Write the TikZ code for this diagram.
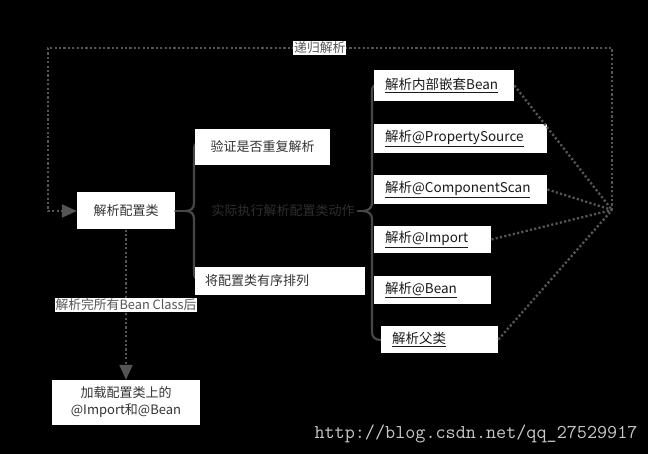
\documentclass[tikz,border=0pt]{standalone}
\usepackage{fontspec}
\setmainfont{Noto Sans CJK SC}
\usepackage{xcolor}
\usetikzlibrary{arrows.meta}
\newcommand{\picwidth}{648}
\newcommand{\picheight}{454}
\definecolor{pagebg}{HTML}{000000}
\definecolor{boxtext}{HTML}{333333}
\definecolor{linktext}{HTML}{1A1A1A}
\definecolor{bracecolor}{HTML}{474747}
\definecolor{dotcolor}{HTML}{555555}
\definecolor{dimtext}{HTML}{2E2E2E}
\definecolor{marktext}{HTML}{C8C8C8}

\tikzset{
  whitebox/.style={fill=white, inner ysep=0pt, font=\fontsize{13}{16}\selectfont\color{boxtext}},
  stepbox/.style={fill=white, anchor=west, align=left, inner xsep=11pt, inner ysep=0pt,
    font=\fontsize{13.5}{16}\selectfont\color{linktext}},
  dotline/.style={dotcolor, line width=2.3pt, dash pattern=on 2.2pt off 2.2pt},
  bracket/.style={bracecolor, line width=2.2pt, line cap=round},
  ontag/.style={fill=white, inner sep=1pt, font=\fontsize{12.8}{15}\selectfont\color{black}},
  tip/.style={-{Triangle[length=15pt, width=13pt]}},
}

\begin{document}
\begin{tikzpicture}[x=1pt, y=1pt]
  \fill[pagebg] (0,0) rectangle (\picwidth, \picheight);
  \useasboundingbox (0,0) rectangle (\picwidth, \picheight);

  % === BRACES ===
  \coordinate (tipA) at (186,243);
  \coordinate (tipB) at (363,243);
  \draw[bracket] (199,311) .. controls (195,311) and (194,309) .. (194,304) -- (194,251)
    .. controls (194,246) and (191,243) .. (tipA)
    .. controls (191,243) and (194,240) .. (194,235) -- (194,182)
    .. controls (194,177) and (195,175) .. (199,175);
  \draw[bracket] (378,369) .. controls (373,369) and (372,367) .. (372,362) -- (372,251)
    .. controls (372,246) and (368,243) .. (tipB)
    .. controls (368,243) and (372,240) .. (372,235) -- (372,122)
    .. controls (372,117) and (375,114) .. (381,114);

  % === LEFT PART ===
  \node[whitebox, minimum width=98pt, minimum height=37pt] (cfg) at (126,243) {解析配置类};
  \node[whitebox, minimum width=135pt, minimum height=36pt] (check) at (262.5,307) {验证是否重复解析};
  \node[whitebox, anchor=west, align=left, text width=150pt, inner xsep=10pt, minimum height=28pt]
    (order) at (195,173) {将配置类有序排列};
  \node[font=\fontsize{13}{16}\selectfont\color{dimtext}] (act) at (283,243) {实际执行解析配置类动作};
  \node[whitebox, align=center, minimum width=148pt, minimum height=45pt,
    font=\fontsize{13}{17}\selectfont\color{boxtext}] (load) at (126,51.5) {加载配置类上的\\@Import和@Bean};

  % === RIGHT COLUMN ===
  \node[stepbox, text width=118pt, minimum height=31pt] (nested) at (374,368.5) {\underline{解析内部嵌套Bean}};
  \node[stepbox, text width=151pt, minimum height=29pt] (prop) at (374,315.5) {\underline{解析@PropertySource}};
  \node[stepbox, text width=151pt, minimum height=29pt] (scan) at (374,264.5) {\underline{解析@ComponentScan}};
  \node[stepbox, text width=95pt, minimum height=27pt] (imp) at (374,214.5) {\underline{解析@Import}};
  \node[stepbox, text width=95pt, minimum height=28pt] (bean) at (374,164) {\underline{解析@Bean}};
  \node[stepbox, text width=95pt, minimum height=27pt] (parent) at (381,114.5) {\underline{解析父类}};

  \draw[bracket] (cfg.east) -- (tipA);
  \draw[bracket] (act.east) -- (tipB);

  % === RECURSION LOOP ===
  \coordinate (merge) at (612,244);
  \coordinate (loopR) at (612,406);
  \coordinate (loopL) at (48,406);
  \draw[dotline] (nested.east) -- (merge);
  \draw[dotline] (scan.east) -- (merge);
  \draw[dotline] (imp.east) -- (merge);
  \draw[dotline] (parent.east) -- (merge);
  \draw[dotline, tip] (merge) -- (loopR) -- node[ontag, pos=0.518] {递归解析} (loopL) |- (cfg.west);

  \draw[dotline, tip] (cfg.south) -- node[ontag] {解析完所有Bean Class后} (load.north);

  % watermark
  \node[font=\fontsize{19.6}{22}\selectfont\ttfamily\color{marktext}] (mark) at (476,20)
    {http://blog.csdn.net/qq\_27529917};
\end{tikzpicture}
\end{document}
